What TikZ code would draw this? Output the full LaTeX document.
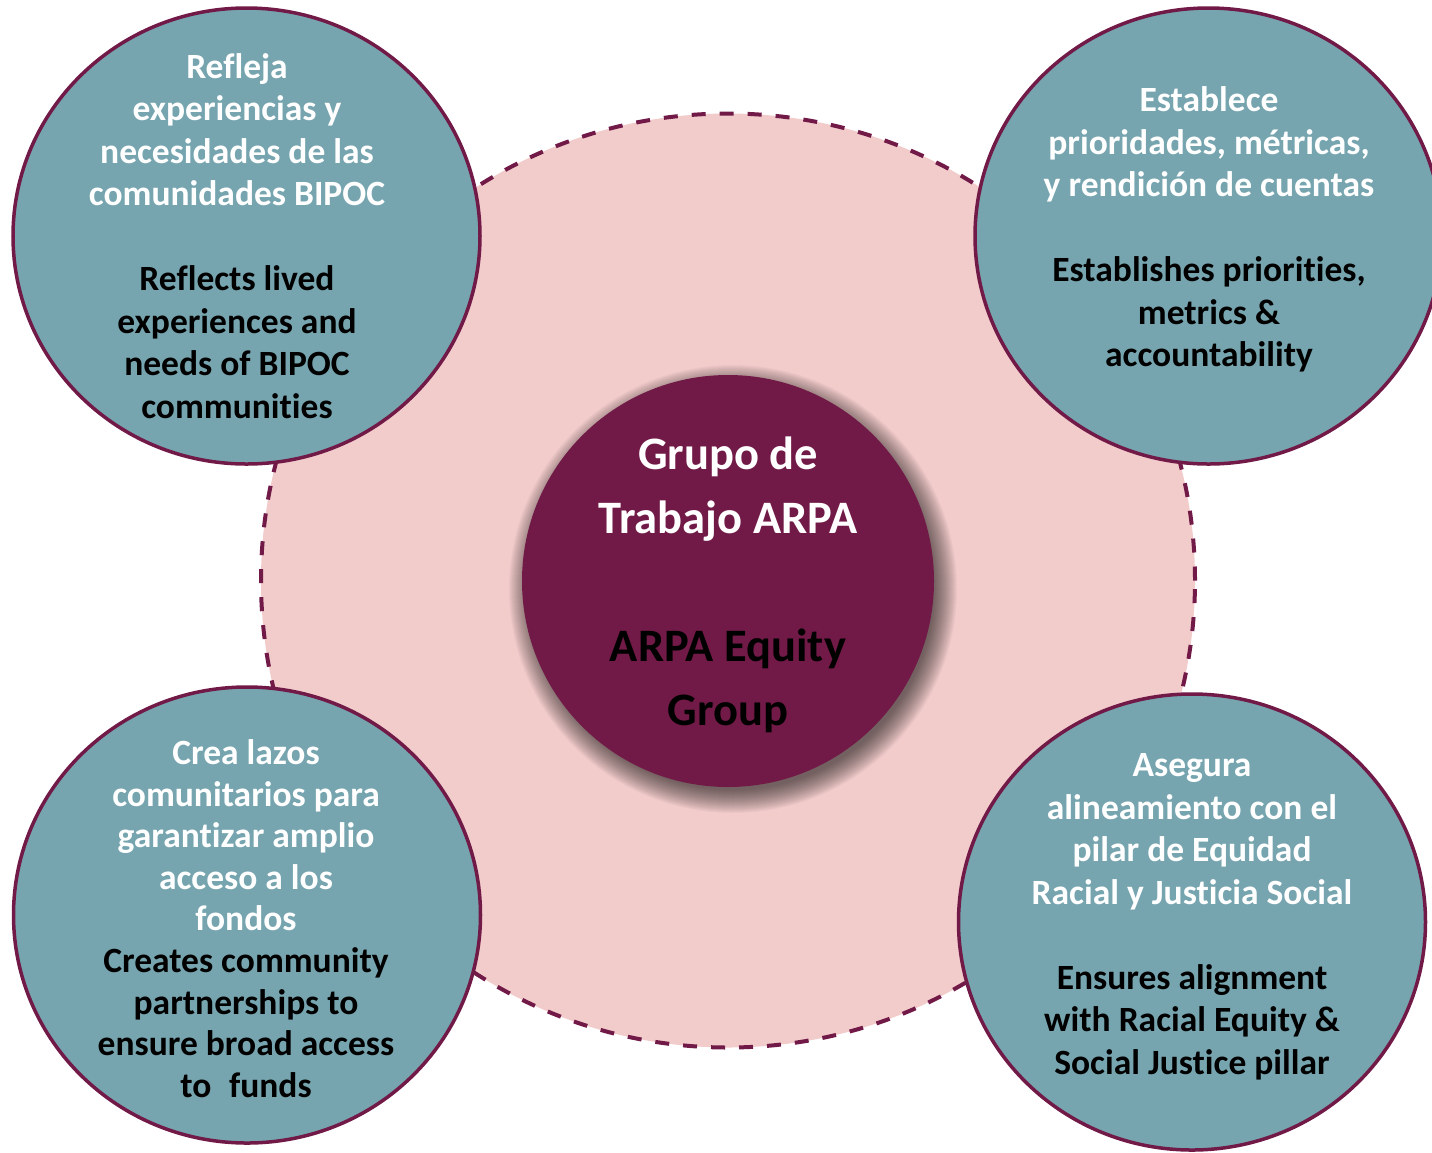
\documentclass[tikz,border=0pt]{standalone}
\usepackage{fontspec}
\setmainfont{Carlito}[Ligatures={NoCommon}]
\usetikzlibrary{shapes.geometric}
\definecolor{teal}{HTML}{76A5AF}
\definecolor{maroon}{HTML}{721A47}
\definecolor{pinkbg}{HTML}{F2CBCB}
\tikzset{
  outer/.style={ellipse, fill=teal, draw=maroon, line width=3.5pt, inner sep=0pt, minimum width=467pt, minimum height=456pt},
  outertext/.style={align=center, text=white, font=\fontsize{35.5}{42.5}\selectfont\bfseries, inner sep=0pt},
  centertext/.style={align=center, text=white, font=\fontsize{46.5}{64}\selectfont\bfseries, inner sep=0pt},
}
\newcommand{\en}[1]{\textcolor{black}{#1}}
\begin{document}
\begin{tikzpicture}[x=1pt,y=-1pt]
\useasboundingbox (0,0) rectangle (1432,1152);
% background ring
\node[circle, fill=pinkbg, draw=maroon, line width=4pt, dash pattern=on 14pt off 14pt, minimum size=934pt, inner sep=0pt] (ring) at (728,580.5) {};
% soft shadow of the hub
\foreach \k in {0,...,23}
  \fill[black, opacity=0.028] (733,589) circle ({224-\k});
% center
\node[circle, fill=maroon, minimum size=412pt, inner sep=0pt] (hub) at (728,581) {};
\node[centertext] (hubtext) at (728,585) {Grupo de\\Trabajo ARPA\\\mbox{}\\\en{ARPA Equity}\\\en{Group}};
% outer circles
\node[outer] (tl) at (246.5,236) {};
\node[outer] (tr) at (1208.5,236) {};
\node[outer] (bl) at (247,915) {};
\node[outer] (br) at (1192,922) {};
\node[outertext] (tltext) at (237,236) {Refleja\\experiencias y\\necesidades de las\\comunidades BIPOC\\\mbox{}\\\en{Reflects lived}\\\en{experiences and}\\\en{needs of BIPOC}\\\en{communities}};
\node[outertext] (trtext) at (1209,229.5) {Establece\\prioridades, métricas,\\y rendición de cuentas\\\mbox{}\\\en{Establishes priorities,}\\\en{metrics \&}\\\en{accountability}};
\node[outertext, font=\fontsize{35.5}{41.6}\selectfont\bfseries] (bltext) at (246,918.5) {Crea lazos\\comunitarios para\\garantizar amplio\\acceso a los\\fondos\hspace{0.25em}\\\en{Creates community}\\\en{partnerships to}\\\en{ensure broad access}\\\en{to\hspace{0.5em}funds}};
\node[outertext] (brtext) at (1192,917) {Asegura\\alineamiento con el\\pilar de Equidad\\Racial y Justicia Social\\\mbox{}\\\en{Ensures alignment}\\\en{with Racial Equity \&}\\\en{Social Justice pillar}};
\end{tikzpicture}
\end{document}
